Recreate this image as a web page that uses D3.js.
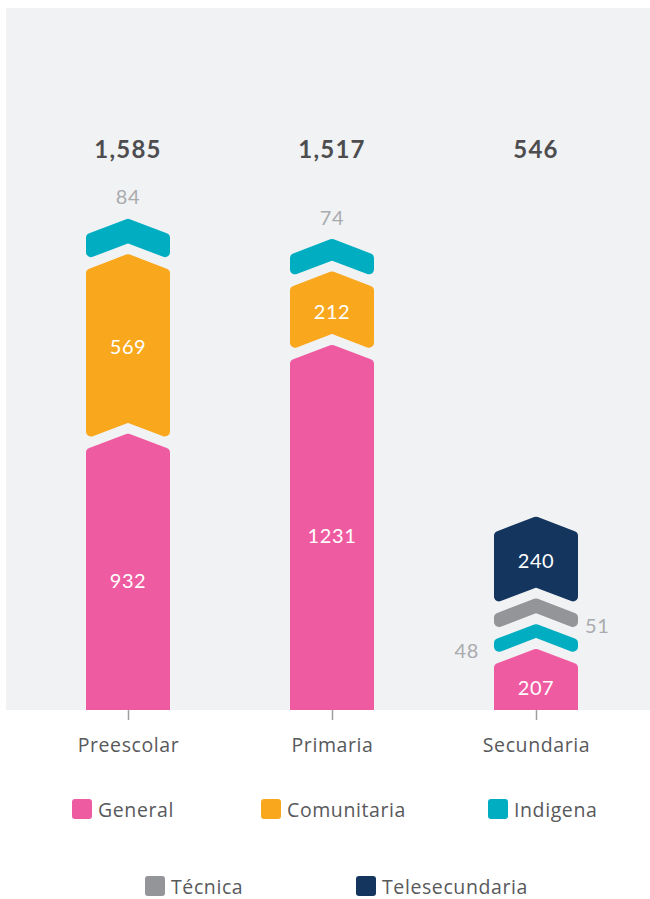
<!DOCTYPE html>
<html>
<head>
<meta charset="utf-8">
<script src="https://cdn.jsdelivr.net/npm/d3@7"></script>
<style>
  body { margin: 0; background: #fff; }
  text { font-family: Lato, "Open Sans", sans-serif; }
</style>
</head>
<body>
<script>
const w = 650;
const h = 899;
const baseY = 710;

const categories = ["Preescolar", "Primaria", "Secundaria"];
const seriesNames = ["General", "Comunitaria", "Indigena", "Técnica", "Telesecundaria"];
const colors = ["#ef5ba1", "#f9a81e", "#00adc1", "#939598", "#13355e"];

const general = [932, 1231, 207];
const comunitaria = [569, 212, 0];
const indigena = [84, 74, 48];
const tecnica = [0, 0, 51];
const telesecundaria = [0, 0, 240];

const seriesValues = [general, comunitaria, indigena, tecnica, telesecundaria];

const halfW = 42;   // half bar width
const drop = 16;    // chevron depth
const gap = 10.5;   // space between pieces
const rad = 5;      // corner rounding
const slope = drop / halfW;
const radY = rad * Math.sqrt(1 + slope * slope);
const labelFont = "'Open Sans', sans-serif";

const xScale = d3.scalePoint()
                 .domain(categories)
                 .range([128, 536]);

const hScale = d3.scaleLinear()
                 .domain([0, 1600])
                 .range([0, 475]);

const svg = d3.select("body")
              .append("svg")
              .attr("width", w)
              .attr("height", h);

svg.append("rect")
   .attr("x", 6)
   .attr("y", 8)
   .attr("width", w - 6)
   .attr("height", baseY - 8)
   .attr("fill", "#f1f2f4");

svg.append("clipPath")
   .attr("id", "plot-clip")
   .append("rect")
   .attr("x", 0)
   .attr("y", 0)
   .attr("width", w)
   .attr("height", baseY);

// inset polygon, stroked with round joins to get the rounded corners
function chevron(cx, top, ht, isBottom) {
  const a = halfW - rad;
  const bot = isBottom ? baseY + 30 : top + ht;
  const pts = [
    [cx, top + radY],
    [cx + a, top + radY + a * slope],
    [cx + a, isBottom ? bot : bot - radY + a * slope],
    [cx, isBottom ? bot : bot - radY],
    [cx - a, isBottom ? bot : bot - radY + a * slope],
    [cx - a, top + radY + a * slope]
  ];
  return d3.line()(pts) + "Z";
}

const pieces = [];
categories.forEach((cat, ci) => {
  const cx = xScale(cat);
  let prevTop = null;
  const catPieces = [];
  seriesValues.forEach((vals, si) => {
    const v = vals[ci];
    if (!v) return;
    const ht = hScale(v);
    const isBottom = prevTop === null;
    const top = isBottom ? baseY - ht : prevTop - gap - ht;
    catPieces.push({cat, cx, si, v, ht, top, isBottom});
    prevTop = top;
  });
  catPieces[catPieces.length - 1].isTop = true;
  pieces.push(...catPieces);
});

const barsG = svg.append("g").attr("clip-path", "url(#plot-clip)");

barsG.selectAll("path")
     .data(pieces)
     .enter()
     .append("path")
     .attr("d", d => chevron(d.cx, d.top, d.ht, d.isBottom))
     .attr("fill", d => colors[d.si])
     .attr("stroke", d => colors[d.si])
     .attr("stroke-width", rad * 2)
     .attr("stroke-linejoin", "round");

// labels inside the big pieces
svg.selectAll(".in-label")
   .data(pieces.filter(d => d.v >= 200))
   .enter()
   .append("text")
   .attr("class", "in-label")
   .attr("x", d => d.cx)
   .attr("y", d => d.isBottom ? (d.top + drop + baseY) / 2 : d.top + d.ht / 2 + drop / 2)
   .attr("text-anchor", "middle")
   .attr("dominant-baseline", "central")
   .attr("fill", "#fff")
   .attr("font-size", 20)
   .attr("letter-spacing", 0.6)
   .text(d => d.v);

// small pieces: label outside
const small = pieces.filter(d => d.v < 200);
svg.selectAll(".out-label")
   .data(small)
   .enter()
   .append("text")
   .attr("class", "out-label")
   .attr("x", d => d.isTop ? d.cx : (d.si % 2 === 0 ? d.cx - halfW - 15 : d.cx + halfW + 7))
   .attr("y", d => d.isTop ? d.top - 22 : d.top + d.ht + drop - 4)
   .attr("text-anchor", d => d.isTop ? "middle" : (d.si % 2 === 0 ? "end" : "start"))
   .attr("dominant-baseline", "central")
   .attr("fill", "#a9abae")
   .attr("font-size", 20)
   .attr("letter-spacing", 0.6)
   .text(d => d.v);

// totals
svg.selectAll(".total")
   .data(categories)
   .enter()
   .append("text")
   .attr("class", "total")
   .attr("x", d => xScale(d))
   .attr("y", 148)
   .attr("text-anchor", "middle")
   .attr("dominant-baseline", "central")
   .attr("fill", "#4d4d4f")
   .attr("font-size", 24)
   .attr("font-weight", "bold")
   .attr("letter-spacing", 1.2)
   .text((d, i) => d3.format(",")(d3.sum(seriesValues, s => s[i])));

const xAxis = d3.axisBottom(xScale)
                .tickSize(10)
                .tickPadding(18);

const axisG = svg.append("g")
   .attr("transform", "translate(0," + baseY + ")")
   .call(xAxis);

axisG.select(".domain").remove();
axisG.selectAll("line").attr("stroke", "#9d9fa2").attr("stroke-width", 1.5);
axisG.selectAll("text")
     .attr("font-size", 19.5)
     .attr("fill", "#58595b")
     .attr("letter-spacing", 0.6)
     .style("font-family", labelFont);

// legend
const legendPos = [[72, 809], [261, 809], [488, 809], [145, 886], [356, 886]];
const legend = svg.selectAll(".legend")
   .data(seriesNames)
   .enter()
   .append("g")
   .attr("class", "legend")
   .attr("transform", (d, i) => "translate(" + legendPos[i][0] + "," + legendPos[i][1] + ")");

legend.append("rect")
      .attr("x", 0)
      .attr("y", -10)
      .attr("width", 20)
      .attr("height", 20)
      .attr("rx", 3)
      .attr("fill", (d, i) => colors[i]);

legend.append("text")
      .attr("x", 26)
      .attr("y", 0)
      .attr("dominant-baseline", "central")
      .attr("font-size", 19.5)
      .attr("fill", "#58595b")
      .attr("letter-spacing", 0.6)
      .style("font-family", labelFont)
      .text(d => d);
</script>
</body>
</html>
